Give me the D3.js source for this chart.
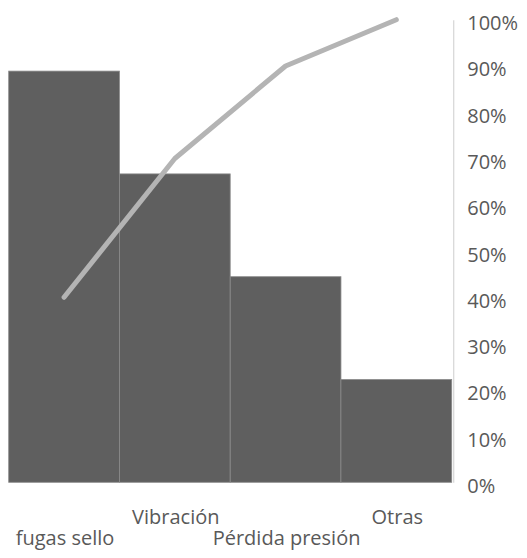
<!DOCTYPE html>
<html>
<head>
<meta charset="utf-8">
<script src="https://cdn.jsdelivr.net/npm/d3@7"></script>
<style>
  html, body { margin: 0; padding: 0; background: #ffffff; }
  svg { display: block; }
  text { font-family: "Open Sans", sans-serif; fill: #595959; }
</style>
</head>
<body>
<svg id="chart" width="527" height="558"></svg>
<script>
// Failure causes, ordered by frequency
const categories = ["fugas sello", "Vibración", "Pérdida presión", "Otras"];
const counts = [40, 30, 20, 10];
const cumulativePct = [0.40, 0.70, 0.90, 1.00];
const countMax = 45;
const pctTicks = [0, 0.1, 0.2, 0.3, 0.4, 0.5, 0.6, 0.7, 0.8, 0.9, 1.0];

const svg = d3.select("#chart");
const plot = { left: 8.7, right: 451.7, top: 19.7, bottom: 482.3 };

const x = d3.scaleBand().domain(categories).range([plot.left, plot.right]).padding(0);
const yCount = d3.scaleLinear().domain([0, countMax]).range([plot.bottom, plot.top]);
const yPct = d3.scaleLinear().domain([0, 1]).range([plot.bottom, plot.top]);

// Bars (no gap between categories)
svg.append("g")
  .selectAll("rect")
  .data(categories)
  .join("rect")
  .attr("x", d => x(d))
  .attr("y", (d, i) => yCount(counts[i]))
  .attr("width", x.bandwidth())
  .attr("height", (d, i) => yCount(0) - yCount(counts[i]))
  .attr("fill", "#5f5f5f")
  .attr("stroke", "#8a8a8a")
  .attr("stroke-width", 0.8);

// Cumulative percentage line
const line = d3.line()
  .x((d, i) => x(categories[i]) + x.bandwidth() / 2)
  .y(d => yPct(d));

svg.append("path")
  .datum(cumulativePct)
  .attr("d", line)
  .attr("fill", "none")
  .attr("stroke", "#b4b4b4")
  .attr("stroke-width", 5)
  .attr("stroke-linecap", "round")
  .attr("stroke-linejoin", "round");

// Secondary (percentage) axis on the right
const rightAxis = d3.axisRight(yPct)
  .tickValues(pctTicks)
  .tickFormat(d3.format(".0%"))
  .tickSize(0)
  .tickPadding(14);

const gR = svg.append("g")
  .attr("transform", `translate(${plot.right + 1.5},0)`)
  .call(rightAxis);
gR.select(".domain").attr("stroke", "#d9d9d9").attr("stroke-width", 1.3);
gR.selectAll(".tick text")
  .attr("dy", "0.5em")
  .style("font-size", "20px")
  .style("font-family", "'Open Sans', sans-serif")
  .attr("fill", "#595959");

// Category labels, staggered on two rows
const gX = svg.append("g");
gX.selectAll("text")
  .data(categories)
  .join("text")
  .attr("x", d => x(d) + x.bandwidth() / 2 + 1)
  .attr("y", (d, i) => i % 2 === 1 ? 524 : 545)
  .attr("text-anchor", "middle")
  .style("font-size", "20px")
  .text(d => d);
</script>
</body>
</html>
